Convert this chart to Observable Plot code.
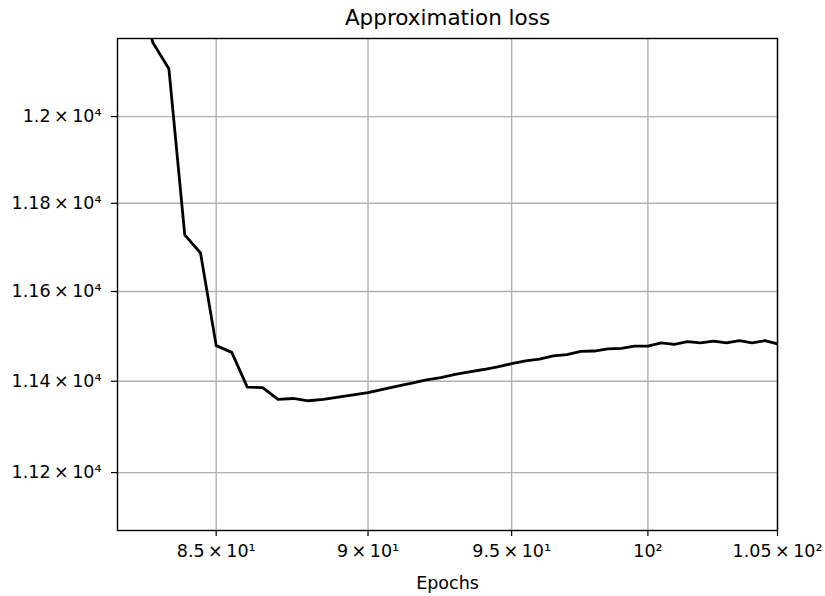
<!DOCTYPE html>
<html>
<head>
<meta charset="utf-8">
<script src="https://cdn.jsdelivr.net/npm/d3@7"></script>
<script src="https://cdn.jsdelivr.net/npm/@observablehq/plot@0.6"></script>
<style>
  html, body { margin: 0; padding: 0; background: #fff; }
  #chart svg { display: block; }
</style>
</head>
<body>
<div id="chart"></div>
<script>
// ---- data ----
const epochs = [82, 82.5, 83, 83.5, 84, 84.5, 85, 85.5, 86, 86.5, 87, 87.5, 88, 88.5, 89, 89.5,
  90, 90.5, 91, 91.5, 92, 92.5, 93, 93.5, 94, 94.5, 95, 95.5, 96, 96.5, 97, 97.5, 98, 98.5,
  99, 99.5, 100, 100.5, 101, 101.5, 102, 102.5, 103, 103.5, 104, 104.5, 105];
const loss = [12500, 12300, 12173, 12112, 11728, 11687, 11479, 11464, 11387, 11386, 11360, 11362,
  11357, 11360, 11365, 11370, 11375, 11382, 11389, 11396, 11403, 11408, 11415, 11421, 11426,
  11432, 11439, 11445, 11449, 11456, 11459, 11466, 11467, 11472, 11473, 11478, 11478, 11485,
  11482, 11488, 11485, 11489, 11485, 11490, 11485, 11490, 11483];

const xTicks = [85, 90, 95, 100, 105];
const xTickLabels = ["8.5\u2009×\u200910¹", "9\u2009×\u200910¹", "9.5\u2009×\u200910¹", "10²", "1.05\u2009×\u200910²"];
const yTicks = [11200, 11400, 11600, 11800, 12000];
const yTickLabels = ["1.12\u2009×\u200910⁴", "1.14\u2009×\u200910⁴", "1.16\u2009×\u200910⁴", "1.18\u2009×\u200910⁴", "1.2\u2009×\u200910⁴"];

const titleText = "Approximation loss";
const xLabel = "Epochs";

// ---- build ----
const data = epochs.map((e, i) => ({epoch: e, loss: loss[i]}));
const xLab = new Map(xTicks.map((t, i) => [t, xTickLabels[i]]));
const yLab = new Map(yTicks.map((t, i) => [t, yTickLabels[i]]));

const chart = Plot.plot({
  width: 825,
  height: 596,
  marginLeft: 117,
  marginRight: 48,
  marginTop: 38,
  marginBottom: 66,
  style: {fontFamily: "'DejaVu Sans', sans-serif", fontSize: "17.5px", color: "#000", background: "#fff"},
  x: {type: "log", domain: [81.9, 105]},
  y: {type: "log", domain: [11075, 12183]},
  marks: [
    Plot.gridX(xTicks, {stroke: "#b0b0b0", strokeOpacity: 1, strokeWidth: 1.4}),
    Plot.gridY(yTicks, {stroke: "#b0b0b0", strokeOpacity: 1, strokeWidth: 1.4}),
    Plot.line(data, {x: "epoch", y: "loss", stroke: "black", strokeWidth: 2.8, clip: true}),
    Plot.frame({stroke: "#000", strokeWidth: 1.4}),
    Plot.axisX(xTicks, {tickFormat: () => "", tickSize: 6, label: null, stroke: "#000", strokeWidth: 1.2}),
    Plot.text(xTicks, {x: d => d, text: d => xLab.get(d), frameAnchor: "bottom", lineAnchor: "middle", dy: 21, fontSize: 17.5, fill: "#000"}),
    Plot.axisY(yTicks, {tickFormat: d => yLab.get(d), tickSize: 6, tickPadding: 10, fontSize: 17.5, label: null, stroke: "#000", strokeWidth: 1.2}),
    Plot.text([titleText], {frameAnchor: "top", lineAnchor: "middle", dy: -20, fontSize: 21.5, fill: "#000"}),
    Plot.text([xLabel], {frameAnchor: "bottom", lineAnchor: "middle", dy: 53, fontSize: 17.5, fill: "#000"})
  ]
});
document.getElementById("chart").appendChild(chart);
</script>
</body>
</html>
